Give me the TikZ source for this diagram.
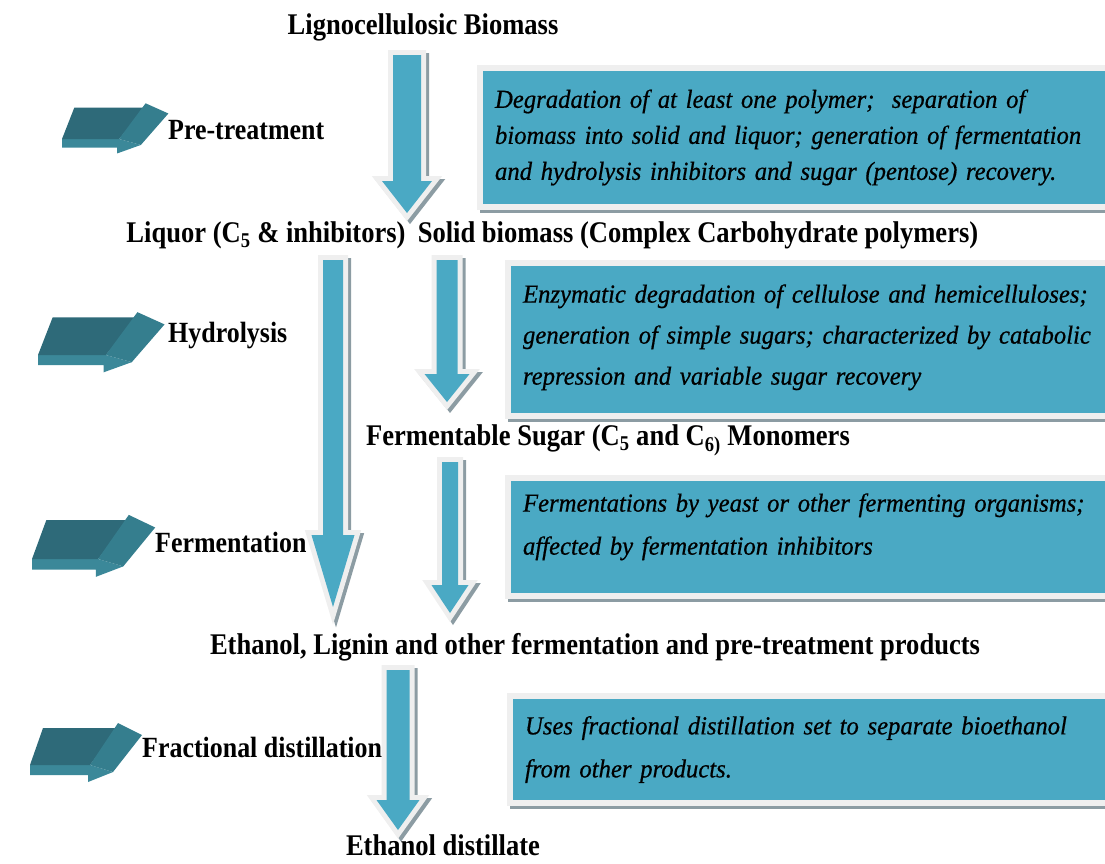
\documentclass[tikz,border=0pt]{standalone}
\usepackage{fontspec}
\setmainfont{Liberation Serif}
\newfontfamily\headfont{Liberation Serif}[FakeStretch=0.885]
\newfontfamily\notefont{Liberation Serif}[FakeStretch=0.95,FakeBold=0.6]
\usetikzlibrary{calc,shadows}
\pgfdeclarelayer{background}
\pgfsetlayers{background,main}

\definecolor{boxteal}{HTML}{4AA9C4}
\definecolor{rimgrey}{HTML}{EFEFEF}
\definecolor{shadowgrey}{HTML}{8C9CA3}
\definecolor{slabtop}{HTML}{2E6A79}
\definecolor{slabside}{HTML}{3B8899}
\definecolor{slabhead}{HTML}{357E8E}

\tikzset{
  flowtext/.style={font=\headfont\bfseries\fontsize{30}{32}\selectfont, inner sep=0pt},
  stagelabel/.style={font=\headfont\bfseries\fontsize{29.3}{31}\selectfont, inner sep=0pt, anchor=west},
  notebox/.style={anchor=north west, fill=boxteal, draw=rimgrey, line width=6pt,
    inner xsep=15pt, inner ysep=0pt, minimum width=680pt, text width=650pt, align=left,
    font=\notefont\itshape\fontsize{26}{36}\selectfont,
    drop shadow={shadow xshift=0pt, shadow yshift=-6pt, fill=shadowgrey, opacity=1}},
  arrowshadow/.style={draw=shadowgrey, fill=shadowgrey, line width=10pt, line join=miter,
    transform canvas={xshift=3pt, yshift=-3pt}},
  arrowrim/.style={draw=rimgrey, fill=rimgrey, line width=10pt, line join=miter},
  arrowbody/.style={fill=boxteal},
  slab arrow/.pic={
    \fill[slabside] (0,0) -- (0,10) -- (58,10) -- (58,17) -- (83,7) -- (60,0) -- cycle;
    \fill[slabtop] (0,0) -- (13,-37) -- (88,-37) -- (60,0) -- cycle;
    \fill[slabhead] (88,-42) -- (112,-30) -- (83,7) -- (60,0) -- cycle;
  }
}

% big down arrow: start, tip, shaft half width, head half width, head length
\newcommand{\flowarrow}[5]{%
  \draw[arrowshadow] let \p1=(#1), \p2=(#2) in
    (\x1-#3pt,\y1) -- (\x1+#3pt,\y1) -- (\x1+#3pt,\y2+#5pt) -- (\x1+#4pt,\y2+#5pt)
    -- (\x1,\y2) -- (\x1-#4pt,\y2+#5pt) -- (\x1-#3pt,\y2+#5pt) -- cycle;
  \draw[arrowrim] let \p1=(#1), \p2=(#2) in
    (\x1-#3pt,\y1) -- (\x1+#3pt,\y1) -- (\x1+#3pt,\y2+#5pt) -- (\x1+#4pt,\y2+#5pt)
    -- (\x1,\y2) -- (\x1-#4pt,\y2+#5pt) -- (\x1-#3pt,\y2+#5pt) -- cycle;
  \fill[arrowbody] let \p1=(#1), \p2=(#2) in
    (\x1-#3pt,\y1) -- (\x1+#3pt,\y1) -- (\x1+#3pt,\y2+#5pt) -- (\x1+#4pt,\y2+#5pt)
    -- (\x1,\y2) -- (\x1-#4pt,\y2+#5pt) -- (\x1-#3pt,\y2+#5pt) -- cycle;
}

\begin{document}
\begin{tikzpicture}[x=1pt,y=-1pt]
\useasboundingbox (0,0) rectangle (1105,863);
\clip (0,0) rectangle (1105,863);

% stage arrows on the left
\pic at (62,139) [xscale=0.95, yscale=0.85] {slab arrow};
\pic at (38,355) [xscale=1.13, yscale=1.02] {slab arrow};
\pic at (32,559) [xscale=1.1, yscale=1.05] {slab arrow};
\pic at (30,765) {slab arrow};

% stage names
\node[stagelabel] (pretreat) at (168,130) {Pre-treatment};
\node[stagelabel] (hydro) at (168,335) {Hydrolysis};
\node[stagelabel] (ferment) at (155,542) {Fermentation};
\node[stagelabel] (fracdist) at (142,747) {Fractional distillation};

% products along the flow
\node[flowtext] (biomass) at (423,27) {Lignocellulosic Biomass};
\node[flowtext] (liquor) at (266,235) {Liquor (C\textsubscript{5} \& inhibitors)};
\node[flowtext] (solid) at (698,235) {Solid biomass (Complex Carbohydrate polymers)};
\node[flowtext] (sugar) at (608,440) {Fermentable Sugar (C\textsubscript{5} and C\textsubscript{6)} Monomers};
\node[flowtext] (products) at (595,647) {Ethanol, Lignin and other fermentation and pre-treatment products};
\node[flowtext] (distillate) at (443,845) {Ethanol distillate};

% notes
\node[notebox, minimum height=139pt] (note1) at (477,65)
  {Degradation of at least one polymer;\ \ separation of\\
   biomass into solid and liquor; generation of fermentation\\
   and hydrolysis inhibitors and sugar (pentose) recovery.};
\node[notebox, minimum height=153pt] (note2) at (505,260)
  {Enzymatic degradation of cellulose and hemicelluloses;\\[5pt]
   generation of simple sugars; characterized by catabolic\\[5pt]
   repression and variable sugar recovery\rule[-10pt]{0pt}{1pt}};
\node[notebox, minimum height=118pt] (note3) at (505,475)
  {Fermentations by yeast or other fermenting organisms;\\[7pt]
   affected by fermentation inhibitors\rule[-26pt]{0pt}{1pt}};
\node[notebox, minimum height=107pt] (note4) at (507,693)
  {Uses fractional distillation set to separate bioethanol\\[7pt]
   from other products.};

% arrows
\coordinate (ax1) at (407,0);
\coordinate (ax2) at (333,0);
\coordinate (ax3) at (447,0);
\coordinate (ax4) at (450,0);
\coordinate (ax5) at (398,0);

\begin{pgfonlayer}{background}
\flowarrow{$(biomass.center -| ax1)+(0,28)$}{$(liquor.center -| ax1)+(0,-22)$}{14}{25}{32}
\flowarrow{$(liquor.center -| ax2)+(0,25)$}{$(products.center -| ax2)+(0,-40)$}{10}{21.5}{72}
\flowarrow{$(solid.center -| ax3)+(0,25)$}{$(sugar.center -| ax3)+(0,-38)$}{10.5}{22.5}{28}
\flowarrow{$(sugar.center -| ax4)+(0,22)$}{$(products.center -| ax4)+(0,-34)$}{8}{18.5}{28}
\flowarrow{$(products.center -| ax5)+(0,23)$}{$(distillate.center -| ax5)+(0,-15)$}{11.5}{21.5}{30}
\end{pgfonlayer}

\end{tikzpicture}
\end{document}
